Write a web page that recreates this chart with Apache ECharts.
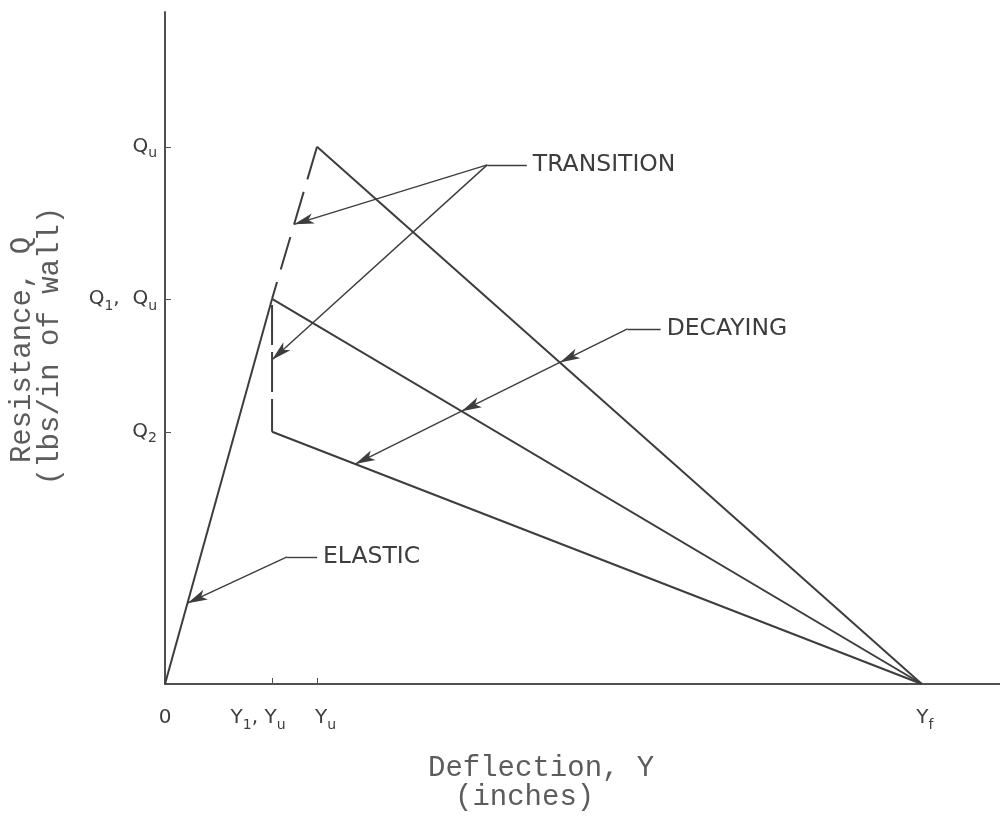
<!DOCTYPE html>
<html>
<head>
<meta charset="utf-8">
<script src="https://cdn.jsdelivr.net/npm/echarts@6/dist/echarts.min.js"></script>
<style>
  html, body { margin: 0; padding: 0; background: #fff; }
  #chart { width: 1000px; height: 836px; }
</style>
</head>
<body>
<div id="chart"></div>
<script>
// deflection (x) and resistance (y) levels, arbitrary units
const deflectionTicks = [0, 1.0, 1.42, 7.07]
const deflectionLabels = ['0', 'Y1, Yu', 'Yu', 'Yf']
const resistanceTicks = [0.655, 1.0, 1.395]
const resistanceLabels = ['Q2', 'Q1,  Qu', 'Qu']

// resistance function branches
const elasticPath = [[0, 0], [1.0, 1.0]]
const transitionPath = [[1.42, 1.395], [1.0, 1.0]]
const dropPath = [[1.0, 1.0], [1.0, 0.655]]
const decayUltimate = [[1.42, 1.395], [7.07, 0]]
const decayFirst = [[1.0, 1.0], [7.07, 0]]
const decaySecond = [[1.0, 0.655], [7.07, 0]]

// callouts
const calloutText = ['TRANSITION', 'DECAYING', 'ELASTIC']
const calloutElbow = [[3.01, 1.348], [4.32, 0.922], [1.14, 0.33]]
const calloutEnd = [[3.38, 1.348], [4.63, 0.922], [1.42, 0.33]]

// horizontal nudge of x tick labels (px, + right / - left)
const xLabelNudge = [0, -28, 17, 6]

const ink = '#3d3d3d'
const labelFont = 'DejaVu Sans'
const monoFont = 'Liberation Mono'
const titleColor = '#5c5c5c'

const lerp = (p, t) => [p[0][0] + (p[1][0] - p[0][0]) * t, p[0][1] + (p[1][1] - p[0][1]) * t]
const intersect = (a, b, c, d) => {
  const den = (a[0] - b[0]) * (c[1] - d[1]) - (a[1] - b[1]) * (c[0] - d[0])
  const t = ((a[0] - c[0]) * (c[1] - d[1]) - (a[1] - c[1]) * (c[0] - d[0])) / den
  return [a[0] + t * (b[0] - a[0]), a[1] + t * (b[1] - a[1])]
}

const richLabel = (s) =>
  s.replace(/([QY])([0-9a-z])/g, '{m|$1}{s|$2}').replace(/,(\s*)/g, '{m|,$1}').replace(/^0$/, '{m|0}')

// arrow targets
const transTargets = [lerp(transitionPath, 0.51), lerp(dropPath, 0.458)]
const decayLast = lerp(decaySecond, 0.128)
const decayTargets = [
  intersect(calloutElbow[1], decayLast, decayUltimate[0], decayUltimate[1]),
  intersect(calloutElbow[1], decayLast, decayFirst[0], decayFirst[1]),
  decayLast,
]
const elasticTarget = lerp(elasticPath, 0.21)

const seg = (a, b, arrow) => [
  { coord: a, symbol: 'none' },
  { coord: b, symbol: arrow ? 'arrow' : 'none' },
]
const leader = (i) => [
  { coord: calloutElbow[i], symbol: 'none' },
  {
    coord: calloutEnd[i],
    symbol: 'none',
    label: {
      show: true,
      position: 'end',
      distance: 6,
      formatter: calloutText[i],
      fontFamily: labelFont,
      fontSize: 23.5,
      color: ink,
    },
  },
]

const markLines = [
  leader(0),
  seg(calloutElbow[0], transTargets[0], true),
  seg(calloutElbow[0], transTargets[1], true),
  leader(1),
  seg(calloutElbow[1], decayTargets[0], true),
  seg(decayTargets[0], decayTargets[1], true),
  seg(decayTargets[1], decayTargets[2], true),
  leader(2),
  seg(calloutElbow[2], elasticTarget, true),
]

const lineSeries = (data, type, offset) => ({
  type: 'line',
  data: data,
  showSymbol: false,
  silent: true,
  lineStyle: { color: ink, width: 2, type: type || 'solid', dashOffset: offset || 0 },
})

const richStyles = {
  m: { fontFamily: labelFont, fontSize: 20, color: ink, lineHeight: 28, verticalAlign: 'middle' },
  s: { fontFamily: labelFont, fontSize: 14, color: ink, lineHeight: 28, verticalAlign: 'bottom' },
}
const xRich = Object.assign({}, richStyles)
xLabelNudge.forEach((n, i) => {
  xRich['g' + i] = { width: Math.abs(n), fontSize: 1 }
})
const xLabel = (v) => {
  const i = deflectionTicks.indexOf(v)
  if (i < 0) return ''
  const gap = xLabelNudge[i] ? '{g' + i + '| }' : ''
  const body = richLabel(deflectionLabels[i])
  return xLabelNudge[i] > 0 ? gap + body : body + gap
}

const titleStyle = (text, align) => ({
  text: text,
  font: '29px "' + monoFont + '"',
  fill: titleColor,
  align: align,
  verticalAlign: 'middle',
  textAlign: align,
  textVerticalAlign: 'middle',
})

const chart = echarts.init(document.getElementById('chart'))
chart.setOption({
  animation: false,
  backgroundColor: '#fff',
  grid: { left: 165, right: 0, top: 12, bottom: 152 },
  xAxis: {
    type: 'value',
    min: 0,
    max: 7.8,
    splitLine: { show: false },
    axisLine: { show: true, lineStyle: { color: '#505050', width: 2 } },
    axisTick: { show: true, inside: true, length: 6, customValues: deflectionTicks.slice(1, 3), lineStyle: { color: '#505050' } },
    axisLabel: {
      customValues: deflectionTicks,
      margin: 20,
      formatter: xLabel,
      rich: xRich,
    },
  },
  yAxis: {
    type: 'value',
    min: 0,
    max: 1.745,
    splitLine: { show: false },
    axisLine: { show: true, lineStyle: { color: '#505050', width: 2 } },
    axisTick: { show: true, inside: true, length: 6, customValues: resistanceTicks, lineStyle: { color: '#505050' } },
    axisLabel: {
      customValues: resistanceTicks,
      margin: 8,
      formatter: (v) => richLabel(resistanceLabels[resistanceTicks.indexOf(v)] || ''),
      rich: richStyles,
    },
  },
  graphic: [
    { type: 'text', x: 22, y: 350, rotation: Math.PI / 2, style: titleStyle('Resistance, Q', 'center') },
    { type: 'text', x: 50, y: 346, rotation: Math.PI / 2, style: titleStyle('(lbs/in of wall)', 'center') },
    { type: 'text', x: 428, y: 768, style: titleStyle('Deflection, Y', 'left') },
    { type: 'text', x: 455, y: 797, style: titleStyle('(inches)', 'left') },
  ],
  series: [
    Object.assign(lineSeries(elasticPath), {
      markLine: {
        silent: true,
        animation: false,
        symbolSize: [8, 20],
        lineStyle: { color: ink, width: 1.4, type: 'solid' },
        label: { show: false },
        emphasis: { disabled: true },
        data: markLines,
      },
    }),
    lineSeries(transitionPath, [34, 13]),
    lineSeries(dropPath, [40, 7], 41),
    lineSeries(decayUltimate),
    lineSeries(decayFirst),
    lineSeries(decaySecond),
  ],
})
</script>
</body>
</html>
